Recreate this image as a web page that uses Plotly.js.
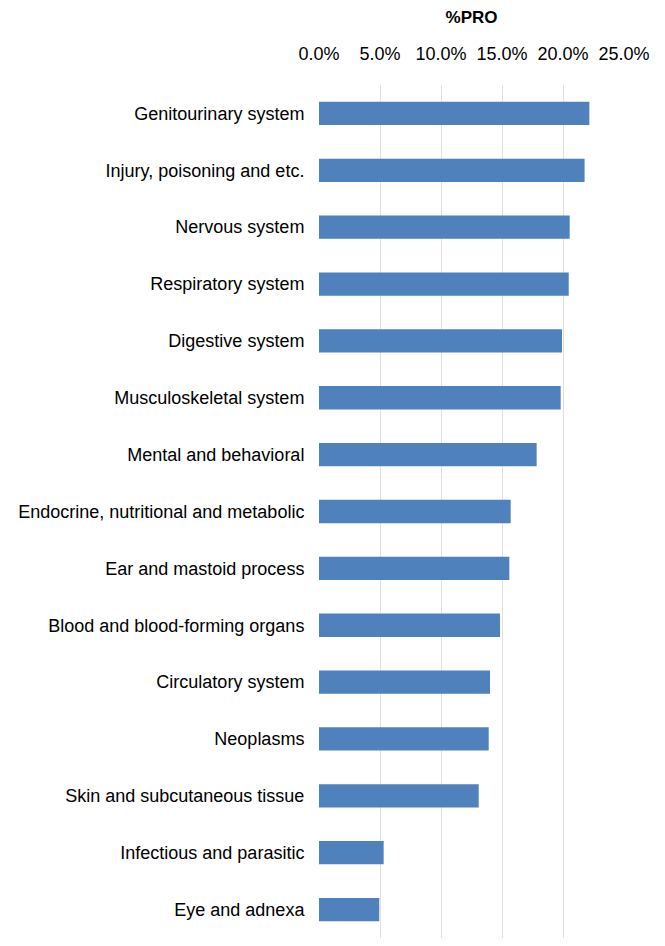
<!DOCTYPE html>
<html>
<head>
<meta charset="utf-8">
<script src="https://cdn.plot.ly/plotly-3.0.1.min.js"></script>
<style>html,body{margin:0;padding:0;background:#fff;}#chart{width:665px;height:946px;}</style>
</head>
<body>
<div id="chart"></div>
<script>
const categories = [
  "Genitourinary system",
  "Injury, poisoning and etc.",
  "Nervous system",
  "Respiratory system",
  "Digestive system",
  "Musculoskeletal system",
  "Mental and behavioral",
  "Endocrine, nutritional and metabolic",
  "Ear and mastoid process",
  "Blood and blood-forming organs",
  "Circulatory system",
  "Neoplasms",
  "Skin and subcutaneous tissue",
  "Infectious and parasitic",
  "Eye and adnexa"
];
const proValues = [0.2216, 0.2177, 0.2055, 0.2047, 0.1992, 0.1981, 0.1784, 0.1571, 0.1560, 0.1484, 0.1402, 0.1391, 0.1309, 0.0530, 0.0494];
const xTickValues = [0, 0.05, 0.10, 0.15, 0.20, 0.25];
const xTickLabels = ["0.0%", "5.0%", "10.0%", "15.0%", "20.0%", "25.0%"];
const axisTitle = "%PRO";

const trace = {
  type: "bar",
  orientation: "h",
  x: proValues,
  y: categories,
  marker: {color: "#4F81BD", line: {width: 0}},
  hoverinfo: "x+y"
};

const layout = {
  width: 665,
  height: 946,
  margin: {l: 319, r: 41, t: 85, b: 8, pad: 0},
  paper_bgcolor: "#ffffff",
  plot_bgcolor: "#ffffff",
  font: {family: "Liberation Sans, Arial, sans-serif", size: 18, color: "#000000"},
  showlegend: false,
  bargap: 0.59,
  xaxis: {
    side: "top",
    range: [0, 0.25],
    tickvals: xTickValues,
    ticktext: xTickLabels,
    showgrid: true,
    gridcolor: "#E0E0E0",
    gridwidth: 1,
    zeroline: false,
    showline: false,
    ticks: "",
    ticklabelstandoff: 20,
    tickfont: {size: 18, color: "#000000"},
    title: {text: "<b>" + axisTitle + "</b>", font: {size: 17, color: "#000000"}, standoff: 16}
  },
  yaxis: {
    autorange: "reversed",
    showgrid: false,
    zeroline: false,
    showline: false,
    ticks: "outside",
    ticklen: 10,
    tickcolor: "rgba(0,0,0,0)",
    tickfont: {size: 18, color: "#000000"}
  }
};

Plotly.newPlot("chart", [trace], layout, {displayModeBar: false, staticPlot: true});
</script>
</body>
</html>
